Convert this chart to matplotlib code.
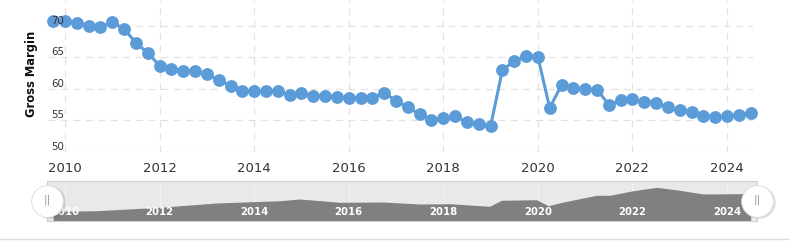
"""
Gross margin by quarter, with a navigator strip underneath.
"""

import numpy as np
import matplotlib.pyplot as plt

# quarterly gross margin, 2009 Q3 .. 2024 Q2
gross_margin = [
    70.7, 70.7, 70.5, 70.0, 69.8, 70.6, 69.5, 67.3, 65.7, 63.7,
    63.2, 62.9, 62.9, 62.3, 61.4, 60.5, 59.6, 59.6, 59.6, 59.7,
    59.0, 59.4, 58.9, 58.9, 58.7, 58.6, 58.6, 58.6, 59.4, 58.1,
    57.1, 56.0, 55.1, 55.4, 55.7, 54.7, 54.4, 54.1, 63.0, 64.4,
    65.3, 65.1, 57.0, 60.6, 60.2, 60.0, 59.9, 57.5, 58.2, 58.4,
    58.0, 57.8, 57.1, 56.6, 56.4, 55.7, 55.6, 55.7, 55.9, 56.2,
]
first_quarter = 2009.75
quarter_years = first_quarter + 0.25 * np.arange(len(gross_margin))

# navigator series (relative units)
nav_years = [2009.75, 2010.67, 2012.0, 2013.2, 2014.55, 2014.97, 2015.81,
             2016.73, 2017.5, 2018.14, 2018.98, 2019.23, 2019.97, 2020.22,
             2020.54, 2021.24, 2021.52, 2022.02, 2022.51, 2023.0, 2023.5,
             2024.27, 2024.5]
nav_values = [9.4, 10.0, 13.4, 17.7, 20.0, 21.7, 18.4, 18.7, 16.7, 17.0,
              14.4, 20.4, 21.0, 15.0, 18.7, 25.4, 25.4, 30.0, 33.4, 30.4,
              26.7, 27.0, 27.7]

year_ticks = [2010, 2012, 2014, 2016, 2018, 2020, 2022, 2024]
margin_ticks = [50, 55, 60, 65, 70]

LINE_BLUE = "#5b9bd8"
GRID = "#e2e2e2"
TEXT = "#333333"

plt.rcParams["lines.scale_dashes"] = False

W, H = 789, 249
fig = plt.figure(figsize=(W / 100, H / 100), dpi=100)

def px_axes(left, top, right, bottom):
    return fig.add_axes([left / W, 1 - bottom / H, (right - left) / W, (bottom - top) / H])

# ---- main chart
ax = px_axes(48, 0, 753, 152)
ax.plot(quarter_years, gross_margin, color=LINE_BLUE, lw=2.2,
        marker="o", ms=8.2, mec=LINE_BLUE, mfc=LINE_BLUE, zorder=3, clip_on=False)

ax.set_xlim(2009.64, 2024.55)
ax.set_ylim(50, 74.1)
ax.set_xticks(year_ticks)
ax.set_xticklabels([str(y) for y in year_ticks])
ax.set_yticks(margin_ticks)
ax.set_yticklabels([])
ax.tick_params(axis="x", length=0, pad=7, labelsize=9.5, labelcolor=TEXT)
ax.tick_params(axis="y", length=0)
ax.grid(True, color=GRID, lw=0.9, linestyle=(0, (5, 4)))
for s in ax.spines.values():
    s.set_visible(False)

for v in margin_ticks:
    ax.annotate(str(v), (0, v), xycoords=ax.get_yaxis_transform(),
                xytext=(2.5, 3.6), textcoords="offset points",
                ha="left", va="center", fontsize=7.4, color=TEXT, zorder=4)

fig.text(31 / W, 1 - 74 / H, "Gross Margin", rotation=90, ha="center",
         va="center", fontsize=8.3, fontweight="bold", color="#111111")

# ---- navigator
nav = px_axes(47.3, 181.3, 757.3, 220.7)
nav.set_facecolor("#e9e9e9")
nav.fill_between(nav_years, nav_values, 0, color="#808080", lw=0, zorder=2)
nav.set_xlim(2009.626, 2024.64)
nav.set_ylim(0, 39.4)
nav.set_xticks(year_ticks)
nav.set_yticks([])
nav.tick_params(axis="x", length=0, labelbottom=False)
nav.grid(True, axis="x", color="#f2f2f2", lw=0.8, zorder=1)
nav.set_axisbelow(True)
for s in nav.spines.values():
    s.set_color("#d0d0d0")
    s.set_linewidth(0.8)

for y in year_ticks:
    nav.text(y, 0.22, str(y), transform=nav.get_xaxis_transform(),
             ha="center", va="center", fontsize=7.3, fontweight="bold",
             color="white", zorder=3)

# handles
for hx in (0, 1):
    nav.plot([hx + 0.002], [0.47], marker="o", ms=23.5, color="#000000", alpha=0.12,
             mew=0, transform=nav.transAxes, clip_on=False, zorder=5)
    nav.plot([hx], [0.5], marker="o", ms=22.8, mfc="white", mec="#dddddd", mew=0.6,
             transform=nav.transAxes, clip_on=False, zorder=6)
    nav.text(hx, 0.52, "||", transform=nav.transAxes, ha="center", va="center",
             fontsize=8, color="#999999", zorder=7)

# bottom rule
fig.add_artist(plt.Line2D([0, 1], [1 - 239 / H, 1 - 239 / H], color="#dcdcdc",
                          lw=1, transform=fig.transFigure))

fig.savefig("out.png", dpi=100)
